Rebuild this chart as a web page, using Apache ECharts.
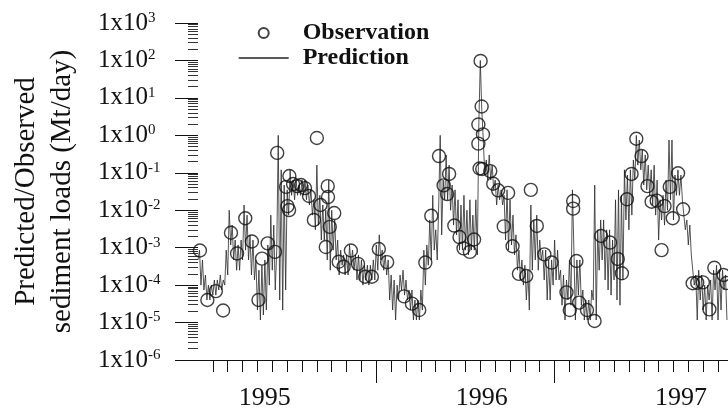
<!DOCTYPE html>
<html>
<head>
<meta charset="utf-8">
<title>Sediment loads</title>
<script src="https://cdn.jsdelivr.net/npm/echarts@6/dist/echarts.min.js"></script>
<style>
  html, body { margin: 0; padding: 0; background: #fff; }
  #chart { width: 728px; height: 414px; }
</style>
</head>
<body>
<div id="chart"></div>
<script>
// observed loads (Mt/day), time in months from the left edge of the plot
const obsMonths = [
  0.13, 0.63, 1.2, 1.69, 2.22, 2.63, 3.18, 3.63, 4.07, 4.31,
  4.69, 5.18, 5.33, 5.93, 6.02, 6.13, 6.15, 6.4, 6.67, 6.93,
  7.2, 7.47, 7.8, 8.0, 8.25, 8.73, 8.75, 9.17, 8.87, 8.6,
  9.47, 9.8, 10.29, 10.77, 11.25, 11.7, 12.17, 12.73, 13.87, 14.4,
  14.89, 15.3, 15.7, 16.22, 16.53, 16.77, 16.9, 17.25, 17.6, 17.87,
  18.3, 18.58, 18.87, 18.87, 19.02, 19.09, 19.18, 18.95, 19.13, 19.67,
  19.87, 20.2, 20.58, 20.87, 21.17, 21.6, 22.09, 22.4, 22.8, 23.31,
  23.8, 24.8, 25.02, 25.25, 25.25, 25.47, 25.65, 26.18, 26.69, 27.13,
  27.73, 28.25, 28.53, 28.87, 29.18, 29.5, 29.85, 30.25, 30.53, 30.87,
  31.2, 31.4, 31.75, 31.95, 32.31, 32.65, 33.29, 33.6, 33.98, 34.42,
  34.75, 35.37, 35.58
];
const obsLoads = [
  8.4e-4, 4.0e-5, 6.9e-5, 2.1e-5, 2.5e-3, 7.0e-4, 6.1e-3, 1.46e-3, 4.0e-5, 5.1e-4,
  1.3e-3, 7.7e-4, 0.34, 0.042, 0.0129, 0.0101, 0.082, 0.050, 0.044, 0.047,
  0.039, 0.024, 5.5e-3, 0.85, 0.0138, 0.044, 0.0225, 8.4e-3, 3.6e-3, 1.04e-3,
  4.2e-4, 3.1e-4, 8.4e-4, 3.7e-4, 1.67e-4, 1.67e-4, 9.2e-4, 4.1e-4, 5.0e-5, 3.2e-5,
  2.16e-5, 4.0e-4, 7.1e-3, 0.28, 0.046, 0.027, 0.093, 3.9e-3, 1.92e-3, 9.6e-4,
  7.7e-4, 1.65e-3, 0.60, 1.95, 97, 5.9, 1.06, 0.13, 0.126, 0.111,
  0.051, 0.034, 3.7e-3, 0.029, 1.09e-3, 2.0e-4, 1.75e-4, 0.035, 3.8e-3, 6.6e-4,
  4.0e-4, 6.4e-5, 2.16e-5, 0.0176, 0.011, 4.4e-4, 3.4e-5, 2.16e-5, 1.1e-5, 2.05e-3,
  1.37e-3, 5.0e-4, 2.07e-4, 0.0196, 0.093, 0.81, 0.28, 0.044, 0.0169, 0.018,
  8.6e-4, 0.0129, 0.042, 6.1e-3, 0.097, 0.0106, 1.12e-4, 1.16e-4, 1.18e-4, 2.25e-5,
  2.9e-4, 1.86e-4, 1.14e-4
];

// predicted loads (Mt/day), one value every 0.1 month starting at month 0
const predStart = 0;
const predStep = 0.1;
const predLoads = [
  4.7e-4, 8.6e-4, 1.0e-4, 4.7e-4, 7.4e-5, 1.86e-4, 4.0e-5, 1.0e-4, 4.0e-5, 1.0e-4,
  5.4e-5, 1.37e-4, 5.4e-5, 1.37e-4, 7.4e-5, 1.86e-4, 7.4e-5, 1.37e-4, 1.0e-4, 8.6e-4,
  1.86e-4, 1.0e-2, 1.18e-3, 4.0e-3, 4.7e-4, 1.6e-3, 2.5e-4, 1.18e-3, 2.5e-4, 1.6e-3,
  4.7e-4, 1.38e-2, 8.6e-4, 7.4e-3, 4.7e-4, 2.2e-3, 1.86e-4, 1.6e-3, 1.37e-4, 4.7e-4,
  2.16e-5, 2.5e-4, 1.17e-5, 3.4e-4, 1.59e-5, 4.7e-4, 2.16e-5, 1.18e-3, 1.0e-4, 7.4e-3,
  2.5e-4, 4.0e-3, 7.4e-5, 8.6e-4, 1.0, 4.0e-5, 0.12, 2.16e-5, 0.047, 7.4e-5,
  0.035, 7.4e-3, 0.12, 0.025, 0.064, 0.019, 0.064, 0.025, 0.047, 0.025,
  0.064, 0.025, 0.064, 0.019, 0.047, 0.0138, 0.035, 7.4e-3, 0.019, 3.0e-3,
  0.16, 4.0e-3, 0.025, 1.6e-3, 0.0138, 1.6e-3, 0.010, 4.7e-4, 0.064, 2.5e-4,
  0.010, 8.6e-4, 5.5e-3, 4.7e-4, 1.6e-3, 1.86e-4, 8.6e-4, 3.4e-4, 6.4e-4, 1.86e-4,
  6.4e-4, 1.86e-4, 1.18e-3, 3.4e-4, 8.6e-4, 2.5e-4, 6.4e-4, 1.37e-4, 6.4e-4, 1.37e-4,
  4.7e-4, 1.0e-4, 3.4e-4, 1.37e-4, 3.4e-4, 1.0e-4, 3.4e-4, 1.37e-4, 4.7e-4, 1.37e-4,
  1.18e-3, 2.5e-4, 2.2e-3, 4.7e-4, 8.6e-4, 2.5e-4, 6.4e-4, 1.86e-4, 4.7e-4, 4.0e-5,
  1.86e-4, 2.16e-5, 1.37e-4, 1.17e-5, 1.0e-4, 4.0e-5, 1.86e-4, 7.4e-5, 2.5e-4, 5.4e-5,
  1.37e-4, 4.0e-5, 7.4e-5, 2.16e-5, 7.4e-5, 1.17e-5, 4.0e-5, 1.17e-5, 4.0e-5, 1.17e-5,
  7.4e-5, 2.16e-5, 8.6e-4, 1.0e-4, 1.18e-3, 3.4e-4, 5.5e-3, 4.7e-4, 0.025, 8.6e-4,
  3.0e-3, 4.7e-4, 0.0138, 1.0, 2.2e-3, 0.064, 0.019, 0.30, 0.019, 0.16,
  0.010, 0.047, 4.0e-3, 0.035, 2.2e-3, 0.019, 8.6e-4, 0.0138, 8.6e-4, 0.025,
  8.6e-4, 0.010, 6.4e-4, 0.019, 8.6e-4, 7.4e-3, 8.6e-4, 0.019, 6.4e-4, 1.9,
  100, 4.7, 0.75, 0.087, 0.22, 0.064, 0.30, 0.064, 0.16, 0.035,
  0.064, 0.0138, 0.047, 0.019, 0.035, 0.0138, 0.025, 1.6e-3, 0.035, 8.6e-4,
  0.019, 1.18e-3, 7.4e-3, 6.4e-4, 2.2e-3, 2.5e-4, 8.6e-4, 1.37e-4, 4.7e-4, 1.0e-4,
  3.4e-4, 4.0e-5, 2.5e-4, 2.16e-5, 0.0138, 2.5e-4, 5.5e-3, 4.7e-4, 7.4e-3, 2.5e-4,
  1.6e-3, 4.7e-4, 8.6e-4, 1.37e-4, 8.6e-4, 4.0e-5, 4.7e-4, 4.0e-5, 4.7e-4, 1.0e-4,
  1.6e-3, 1.37e-4, 8.6e-4, 1.37e-4, 2.5e-4, 2.9e-5, 1.86e-4, 1.17e-5, 1.37e-4, 4.0e-5,
  4.7e-4, 2.9e-5, 0.035, 8.6e-4, 1.17e-5, 4.7e-4, 5.4e-5, 4.7e-4, 2.9e-5, 7.4e-5,
  1.17e-5, 4.0e-5, 1.17e-5, 4.0e-5, 1.17e-5, 7.4e-5, 4.0e-5, 0.047, 1.17e-5, 3.0e-3,
  2.5e-4, 5.5e-3, 4.7e-4, 5.5e-3, 1.37e-4, 3.0e-3, 7.4e-5, 3.0e-3, 5.4e-5, 1.6e-3,
  1.37e-4, 0.019, 4.0e-5, 0.035, 2.9e-5, 0.025, 1.37e-4, 0.12, 5.5e-3, 0.087,
  3.0e-3, 0.12, 7.4e-3, 0.22, 0.064, 1.0, 0.16, 0.75, 0.12, 0.41,
  0.047, 0.30, 0.035, 0.16, 0.025, 0.12, 0.0138, 0.16, 7.4e-3, 0.064,
  1.6e-3, 0.019, 5.5e-3, 0.025, 4.0e-3, 0.064, 0.010, 0.75, 0.019, 0.75,
  5.5e-3, 0.087, 0.025, 0.12, 0.025, 0.087, 0.019, 7.4e-3, 3.0e-3, 5.5e-3,
  1.18e-3, 4.0e-3, 6.4e-4, 2.5e-4, 1.0e-4, 1.86e-4, 1.17e-5, 2.5e-4, 4.0e-5, 1.86e-4,
  2.16e-5, 1.0e-4, 1.17e-5, 1.0e-4, 4.0e-5, 1.37e-4, 1.17e-5, 2.5e-4, 7.4e-5, 3.4e-4,
  1.17e-5, 2.5e-4, 2.16e-5, 2.5e-4, 7.4e-5, 1.86e-4, 1.17e-5
];

// x axis: month ticks, longer ticks and the year labels
const monthTicks = [1, 2, 3, 4, 5, 6, 7, 8, 9, 10, 11, 12, 13, 14, 15, 16, 17, 18,
  19, 20, 21, 22, 23, 24, 25, 26, 27, 28, 29, 30, 31, 32, 33, 34, 35];
const longTicks = [12, 24];
const yearLabelMonths = [4.5, 19.1, 32.5];
const yearLabels = ['1995', '1996', '1997'];

const serif = '"Liberation Serif", "Times New Roman", serif';

// minor log ticks (2..9 in every decade), in exponent units
const minorLogTicks = [];
for (let d = -6; d < 3; d++) {
  for (let k = 2; k <= 9; k++) minorLogTicks.push(d + Math.log10(k));
}

const obsData = obsMonths.map((m, i) => [m, obsLoads[i]]);
const predData = predLoads.map((v, i) => [predStart + i * predStep, v]);

const chart = echarts.init(document.getElementById('chart'));

chart.setOption({
  animation: false,
  backgroundColor: '#fff',
  grid: { left: 193, right: 0, top: 23, bottom: 54 },
  legend: {
    orient: 'vertical',
    left: 233,
    top: 16,
    itemWidth: 50,
    itemHeight: 10,
    itemGap: 1,
    selectedMode: false,
    textStyle: {
      fontFamily: serif,
      fontWeight: 'bold',
      fontSize: 24,
      lineHeight: 24,
      color: '#111',
      padding: [0, 0, 0, 9]
    },
    data: [
      { name: 'Observation', icon: 'circle' },
      {
        name: 'Prediction',
        lineStyle: { width: 1.4, color: '#222' },
        itemStyle: { color: 'rgba(0,0,0,0)', borderWidth: 0 }
      }
    ]
  },
  xAxis: [
    {
      type: 'value',
      min: 0,
      max: 35.67,
      position: 'bottom',
      splitLine: { show: false },
      axisLine: { show: true, onZero: false, lineStyle: { color: '#111', width: 1 } },
      axisTick: { show: true, customValues: monthTicks, length: 12, lineStyle: { color: '#111' } },
      axisLabel: {
        customValues: yearLabelMonths,
        formatter: v => yearLabels[yearLabelMonths.indexOf(v)],
        margin: 25,
        fontFamily: serif,
        fontSize: 26,
        color: '#111'
      }
    },
    {
      type: 'value',
      min: 0,
      max: 35.67,
      position: 'bottom',
      splitLine: { show: false },
      axisLine: { show: false, onZero: false },
      axisTick: { show: true, customValues: longTicks, length: 23, lineStyle: { color: '#111' } },
      axisLabel: { show: false }
    }
  ],
  yAxis: [
    {
      type: 'log',
      logBase: 10,
      min: 1e-6,
      max: 1e3,
      interval: 1,
      splitLine: { show: false },
      axisLine: { show: false, onZero: false },
      axisTick: { show: true, length: 23, lineStyle: { color: '#111' } },
      axisLabel: {
        align: 'left',
        margin: 100,
        formatter: v => '{a|1x10}{b|' + Math.round(Math.log10(v)) + '}',
        rich: {
          a: { fontFamily: serif, fontSize: 25, color: '#111' },
          b: { fontFamily: serif, fontSize: 15, color: '#111', verticalAlign: 'top' }
        }
      },
      name: 'Predicted/Observed\nsediment loads (Mt/day)',
      nameLocation: 'middle',
      nameRotate: 90,
      nameGap: 118,
      nameTextStyle: { fontFamily: serif, fontSize: 29, lineHeight: 36, color: '#111' }
    },
    {
      // only carries the minor ticks of the log axis
      type: 'value',
      min: -6,
      max: 3,
      position: 'left',
      splitLine: { show: false },
      axisLine: { show: false, onZero: false },
      axisLabel: { show: false },
      axisTick: { show: true, customValues: minorLogTicks, length: 10, lineStyle: { color: '#333' } }
    }
  ],
  series: [
    {
      name: 'Prediction',
      type: 'line',
      data: predData,
      symbol: 'none',
      showSymbol: false,
      itemStyle: { color: '#222' },
      lineStyle: { color: '#2a2a2a', width: 0.8 },
      z: 2
    },
    {
      name: 'Observation',
      type: 'scatter',
      data: obsData,
      symbol: 'circle',
      symbolSize: 13,
      itemStyle: { color: 'rgba(255,255,255,0)', borderColor: '#111', borderWidth: 1.4 },
      z: 3
    }
  ]
});
</script>
</body>
</html>
